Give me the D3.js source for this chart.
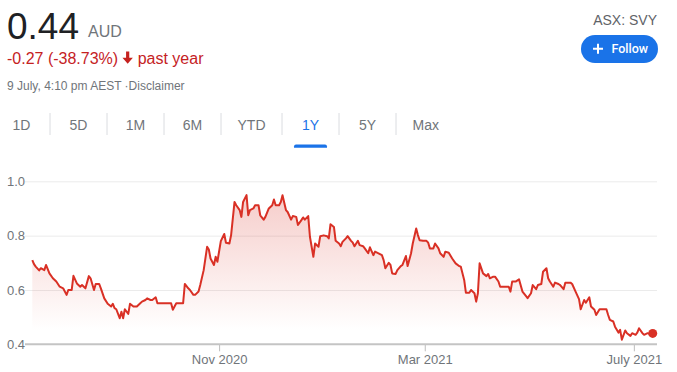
<!DOCTYPE html>
<html lang="en">
<head>
<meta charset="utf-8">
<title>SVY 1Y</title>
<script src="https://d3js.org/d3.v7.min.js"></script>
<style>
    body {
        margin: 0;
        background: #fff;
    }

    svg {
        display: block;
        font-family: "Liberation Sans", Arial, sans-serif;
    }
</style>
</head>
<body>
<div id="chart"></div>
<script>
    // daily closes
    var prices = [
        ["2020-07-15", 0.710], ["2020-07-16", 0.695], ["2020-07-17", 0.686], ["2020-07-19", 0.672],
        ["2020-07-20", 0.680], ["2020-07-22", 0.673], ["2020-07-23", 0.692], ["2020-07-25", 0.661],
        ["2020-07-27", 0.643], ["2020-07-29", 0.631], ["2020-07-31", 0.612], ["2020-08-02", 0.606],
        ["2020-08-04", 0.582], ["2020-08-05", 0.600], ["2020-08-07", 0.600], ["2020-08-08", 0.652],
        ["2020-08-10", 0.624], ["2020-08-12", 0.612], ["2020-08-13", 0.618], ["2020-08-15", 0.606],
        ["2020-08-17", 0.651], ["2020-08-18", 0.643], ["2020-08-20", 0.600], ["2020-08-21", 0.622],
        ["2020-08-23", 0.622], ["2020-08-24", 0.606], ["2020-08-26", 0.569], ["2020-08-28", 0.549],
        ["2020-08-30", 0.539], ["2020-08-31", 0.549], ["2020-09-01", 0.533], ["2020-09-02", 0.529],
        ["2020-09-04", 0.496], ["2020-09-05", 0.520], ["2020-09-06", 0.496], ["2020-09-07", 0.529],
        ["2020-09-09", 0.512], ["2020-09-10", 0.549], ["2020-09-12", 0.539], ["2020-09-14", 0.539],
        ["2020-09-16", 0.551], ["2020-09-17", 0.557], ["2020-09-19", 0.563], ["2020-09-20", 0.569],
        ["2020-09-22", 0.563], ["2020-09-23", 0.563], ["2020-09-25", 0.573], ["2020-09-26", 0.551],
        ["2020-09-29", 0.551], ["2020-10-04", 0.551], ["2020-10-05", 0.527], ["2020-10-07", 0.551],
        ["2020-10-11", 0.551], ["2020-10-12", 0.622], ["2020-10-14", 0.606], ["2020-10-15", 0.600],
        ["2020-10-17", 0.582], ["2020-10-18", 0.582], ["2020-10-20", 0.594], ["2020-10-21", 0.618],
        ["2020-10-23", 0.673], ["2020-10-25", 0.759], ["2020-10-26", 0.749], ["2020-10-27", 0.716],
        ["2020-10-29", 0.692], ["2020-10-30", 0.722], ["2020-10-31", 0.704], ["2020-11-02", 0.780],
        ["2020-11-04", 0.806], ["2020-11-05", 0.774], ["2020-11-07", 0.771], ["2020-11-08", 0.802],
        ["2020-11-10", 0.924], ["2020-11-11", 0.912], ["2020-11-13", 0.894], ["2020-11-14", 0.869],
        ["2020-11-15", 0.924], ["2020-11-17", 0.949], ["2020-11-18", 0.875], ["2020-11-19", 0.894],
        ["2020-11-21", 0.900], ["2020-11-22", 0.912], ["2020-11-24", 0.912], ["2020-11-25", 0.875],
        ["2020-11-27", 0.859], ["2020-11-28", 0.869], ["2020-11-30", 0.900], ["2020-12-02", 0.912],
        ["2020-12-03", 0.933], ["2020-12-04", 0.912], ["2020-12-06", 0.912], ["2020-12-07", 0.924],
        ["2020-12-08", 0.949], ["2020-12-10", 0.894], ["2020-12-11", 0.887], ["2020-12-13", 0.859],
        ["2020-12-14", 0.872], ["2020-12-16", 0.869], ["2020-12-17", 0.839], ["2020-12-19", 0.857],
        ["2020-12-20", 0.867], ["2020-12-21", 0.859], ["2020-12-23", 0.872], ["2020-12-24", 0.796],
        ["2020-12-26", 0.722], ["2020-12-27", 0.771], ["2020-12-29", 0.759], ["2020-12-30", 0.798],
        ["2021-01-01", 0.801], ["2021-01-03", 0.798], ["2021-01-04", 0.790], ["2021-01-05", 0.842],
        ["2021-01-07", 0.832], ["2021-01-08", 0.781], ["2021-01-10", 0.771], ["2021-01-11", 0.761],
        ["2021-01-12", 0.777], ["2021-01-14", 0.790], ["2021-01-15", 0.798], ["2021-01-17", 0.781],
        ["2021-01-18", 0.774], ["2021-01-19", 0.761], ["2021-01-21", 0.781], ["2021-01-22", 0.765],
        ["2021-01-24", 0.761], ["2021-01-25", 0.753], ["2021-01-27", 0.735], ["2021-01-28", 0.757],
        ["2021-01-30", 0.728], ["2021-01-31", 0.741], ["2021-02-02", 0.735], ["2021-02-04", 0.728],
        ["2021-02-05", 0.710], ["2021-02-06", 0.680], ["2021-02-08", 0.700], ["2021-02-09", 0.692],
        ["2021-02-10", 0.661], ["2021-02-12", 0.659], ["2021-02-13", 0.673], ["2021-02-15", 0.688],
        ["2021-02-16", 0.692], ["2021-02-18", 0.725], ["2021-02-19", 0.688], ["2021-02-21", 0.735],
        ["2021-02-22", 0.771], ["2021-02-24", 0.826], ["2021-02-25", 0.802], ["2021-02-26", 0.783],
        ["2021-02-28", 0.781], ["2021-03-02", 0.781], ["2021-03-03", 0.774], ["2021-03-04", 0.753],
        ["2021-03-06", 0.753], ["2021-03-07", 0.771], ["2021-03-09", 0.753], ["2021-03-10", 0.735],
        ["2021-03-12", 0.722], ["2021-03-13", 0.741], ["2021-03-15", 0.737], ["2021-03-17", 0.716],
        ["2021-03-19", 0.698], ["2021-03-21", 0.688], ["2021-03-22", 0.686], ["2021-03-24", 0.637],
        ["2021-03-25", 0.590], ["2021-03-27", 0.590], ["2021-03-28", 0.600], ["2021-03-30", 0.588],
        ["2021-03-31", 0.557], ["2021-04-01", 0.588], ["2021-04-02", 0.698], ["2021-04-04", 0.661],
        ["2021-04-06", 0.651], ["2021-04-07", 0.659], ["2021-04-08", 0.643], ["2021-04-10", 0.649],
        ["2021-04-11", 0.649], ["2021-04-13", 0.631], ["2021-04-14", 0.612], ["2021-04-16", 0.612],
        ["2021-04-19", 0.612], ["2021-04-20", 0.594], ["2021-04-21", 0.631], ["2021-04-23", 0.631],
        ["2021-04-25", 0.639], ["2021-04-27", 0.594], ["2021-04-29", 0.578], ["2021-04-30", 0.570],
        ["2021-05-02", 0.588], ["2021-05-03", 0.618], ["2021-05-05", 0.603], ["2021-05-06", 0.618],
        ["2021-05-08", 0.622], ["2021-05-09", 0.667], ["2021-05-11", 0.680], ["2021-05-12", 0.643],
        ["2021-05-13", 0.631], ["2021-05-15", 0.612], ["2021-05-16", 0.627], ["2021-05-18", 0.622],
        ["2021-05-19", 0.618], ["2021-05-21", 0.603], ["2021-05-22", 0.627], ["2021-05-25", 0.627],
        ["2021-05-26", 0.622], ["2021-05-28", 0.594], ["2021-05-30", 0.566], ["2021-05-31", 0.529],
        ["2021-06-02", 0.563], ["2021-06-03", 0.553], ["2021-06-05", 0.573], ["2021-06-06", 0.539],
        ["2021-06-08", 0.527], ["2021-06-09", 0.508], ["2021-06-11", 0.529], ["2021-06-15", 0.529],
        ["2021-06-16", 0.508], ["2021-06-17", 0.490], ["2021-06-19", 0.484], ["2021-06-20", 0.465],
        ["2021-06-22", 0.443], ["2021-06-23", 0.453], ["2021-06-24", 0.417], ["2021-06-26", 0.451],
        ["2021-06-27", 0.441], ["2021-06-29", 0.431], ["2021-06-30", 0.441], ["2021-07-02", 0.435],
        ["2021-07-03", 0.443], ["2021-07-04", 0.459], ["2021-07-06", 0.441], ["2021-07-07", 0.435],
        ["2021-07-09", 0.441], ["2021-07-10", 0.439], ["2021-07-12", 0.440]
    ];

    var yTicks = [0.4, 0.6, 0.8, 1.0];
    var xTicks = ["2020-11-01", "2021-03-01", "2021-07-01"];
    var xTickLabels = ["Nov 2020", "Mar 2021", "July 2021"];
    var tabs = ["1D", "5D", "1M", "6M", "YTD", "1Y", "5Y", "Max"];
    var activeTab = "1Y";

    var price = "0.44", currency = "AUD";
    var change = "-0.27 (-38.73%)", period = "past year";
    var stamp = "9 July, 4:10 pm AEST \u00b7Disclaimer";
    var ticker = "ASX: SVY";

    var red = "#d93025", grey = "#70757a", blue = "#1a73e8";

    var svg = d3.select("#chart")
        .append("svg")
        .attr("width", 677)
        .attr("height", 372);

    // ---- header ----
    svg.append("text").attr("x", 7).attr("y", 38.5)
        .style("font-size", "37px").attr("fill", "#202124").text(price);
    svg.append("text").attr("x", 88).attr("y", 37)
        .style("font-size", "16px").attr("fill", grey).text(currency);

    var changeText = svg.append("text").attr("x", 7).attr("y", 64)
        .style("font-size", "16px").attr("fill", "#c5221f").text(change);
    var cw = changeText.node().getComputedTextLength();
    var ax = 7 + cw + 9.5;
    svg.append("path")
        .attr("d", "M" + (ax - 1.6) + ",51.5h3.2v6.3h3.6l-5.2,6l-5.2,-6h3.6z")
        .attr("fill", "#c5221f");
    svg.append("text").attr("x", 7 + cw + 19.5).attr("y", 64)
        .style("font-size", "16px").attr("fill", "#c5221f").text(period);

    svg.append("text").attr("x", 7).attr("y", 90)
        .style("font-size", "12px").attr("fill", grey).text(stamp);

    svg.append("text").attr("x", 657).attr("y", 24.5).attr("text-anchor", "end")
        .style("font-size", "14px").attr("fill", "#5f6368").text(ticker);

    svg.append("rect").attr("x", 581).attr("y", 35).attr("width", 77).attr("height", 28)
        .attr("rx", 14).attr("fill", blue);
    svg.append("path").attr("d", "M593 48.8h10M598 43.8v10")
        .attr("stroke", "#fff").attr("stroke-width", 2);
    svg.append("text").attr("x", 611.5).attr("y", 53.2)
        .style("font-family", "Roboto, 'Liberation Sans', sans-serif")
        .style("font-size", "12.5px").style("font-weight", 500)
        .attr("fill", "#fff").text("Follow");

    // ---- range tabs ----
    var tabG = svg.append("g");
    var sep = 50;
    tabs.forEach(function (t, i) {
        var label = tabG.append("text").attr("y", 129.5).attr("text-anchor", "middle")
            .style("font-size", "14px")
            .attr("fill", t === activeTab ? blue : grey)
            .text(t);
        var w = Math.max(57, label.node().getComputedTextLength() + 33);
        var cx = i === 0 ? sep - 57 / 2 : sep + w / 2;
        label.attr("x", cx);
        if (i > 0) sep += w;
        if (i < tabs.length - 1) {
            tabG.append("line").attr("x1", sep).attr("x2", sep).attr("y1", 113).attr("y2", 135)
                .attr("stroke", "#dadce0");
        }
        if (t === activeTab) {
            tabG.append("path")
                .attr("d", "M" + (cx - 16.5) + ",147.8v-1.3a2,2 0 0 1 2,-2h29a2,2 0 0 1 2,2v1.3z")
                .attr("fill", blue);
        }
    });

    // ---- chart ----
    var parse = d3.timeParse("%Y-%m-%d");
    var data = prices.map(function (d) { return { date: parse(d[0]), val: d[1] }; });

    var x = d3.scaleTime()
        .domain(d3.extent(data, function (d) { return d.date; }))
        .range([32.3, 652.7]);
    var y = d3.scaleLinear()
        .domain([0.4, 1.0])
        .range([344.3, 181.3]);

    var defs = svg.append("defs");
    var grad = defs.append("linearGradient").attr("id", "fade")
        .attr("gradientUnits", "userSpaceOnUse")
        .attr("x1", 0).attr("x2", 0)
        .attr("y1", y(0.95)).attr("y2", y(0.45));
    grad.append("stop").attr("offset", 0).attr("stop-color", red).attr("stop-opacity", 0.24);
    grad.append("stop").attr("offset", 1).attr("stop-color", red).attr("stop-opacity", 0);

    svg.append("g")
        .attr("transform", "translate(25,0)")
        .call(d3.axisRight(y).tickValues(yTicks.slice(1)).tickSize(632).tickFormat(""))
        .call(function (g) { g.select(".domain").remove(); })
        .selectAll("line").attr("stroke", "#ebebeb");

    svg.append("g").selectAll("text")
        .data(yTicks)
        .enter()
        .append("text")
        .attr("x", 7)
        .attr("y", function (d) { return y(d); })
        .attr("dy", "0.36em")
        .style("font-size", "13px")
        .attr("fill", grey)
        .text(function (d) { return d3.format(".1f")(d); });

    svg.append("path")
        .datum(data)
        .attr("fill", "url(#fade)")
        .attr("d", d3.area()
            .x(function (d) { return x(d.date); })
            .y0(y(0.4))
            .y1(function (d) { return y(d.val); }));

    var xAxis = svg.append("g")
        .attr("transform", "translate(0," + y(0.4) + ")")
        .call(d3.axisBottom(x)
            .tickValues(xTicks.map(parse))
            .tickSize(7)
            .tickPadding(3)
            .tickFormat(function (d, i) { return xTickLabels[i]; }));
    xAxis.select(".domain").remove();
    xAxis.selectAll("line").attr("stroke", "#bdbdbd");
    xAxis.selectAll("text")
        .style("font-family", "'Liberation Sans', Arial, sans-serif")
        .style("font-size", "13px")
        .attr("fill", grey);

    svg.append("line")
        .attr("x1", 25).attr("x2", 657)
        .attr("y1", y(0.4)).attr("y2", y(0.4))
        .attr("stroke", "#c4c4c4").attr("stroke-width", 2);

    svg.append("path")
        .datum(data)
        .attr("fill", "none")
        .attr("stroke", red)
        .attr("stroke-width", 2)
        .attr("stroke-linejoin", "round")
        .attr("d", d3.line()
            .x(function (d) { return x(d.date); })
            .y(function (d) { return y(d.val); }));

    var last = data[data.length - 1];
    svg.append("circle")
        .attr("cx", x(last.date))
        .attr("cy", y(last.val))
        .attr("r", 4.5)
        .attr("fill", red);
</script>
</body>
</html>
